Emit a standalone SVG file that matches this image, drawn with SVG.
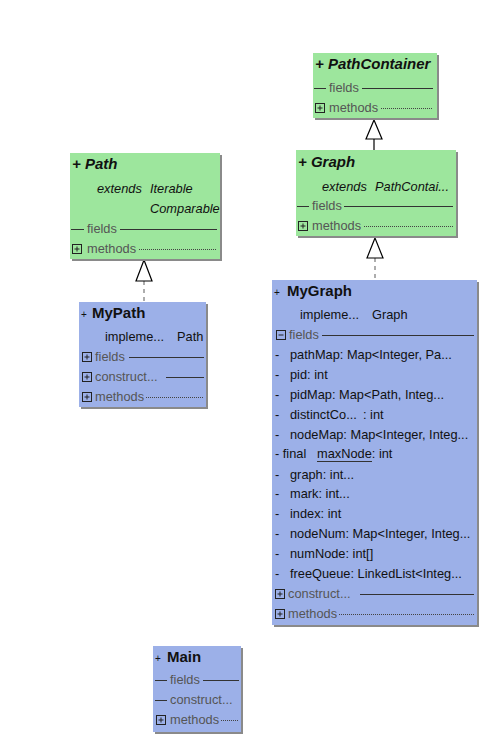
<svg xmlns="http://www.w3.org/2000/svg" width="498" height="756" viewBox="0 0 498 756">
<style>
.sh{fill:#8a8a8a}
.g{fill:#9de69d}
.b{fill:#9cb0e8}
text{font-family:"Liberation Sans",Arial,sans-serif;font-size:12.8px;fill:#111}
.t{font-weight:bold;font-size:15px}
.ti{font-weight:bold;font-style:italic;font-size:15px}
.it{font-style:italic}
.sec{fill:#555}
.pl{font-size:10px}
.ln{stroke:#333;stroke-width:1}
.dot{stroke:#444;stroke-width:1;stroke-dasharray:1 1}
.ic{fill:none;stroke:#222;stroke-width:1}
.arr{fill:#fff;stroke:#000;stroke-width:1.2}
.c{stroke:#000;stroke-width:1.2;fill:none}
.cd{stroke:#777;stroke-width:1.2;fill:none;stroke-dasharray:4 4}
</style>
<defs>
<g id="plus"><rect class="ic" x="0.5" y="0.5" width="9" height="9"/><path class="ic" d="M2.5 5H7.5M5 2.5V7.5"/></g>
<g id="minus"><rect class="ic" x="0.5" y="0.5" width="9" height="9"/><path class="ic" d="M2.5 5H7.5"/></g>
</defs>
<g id="connectors">
<path class="c" d="M374 150V139"/>
<polygon class="arr" points="374,120 366,139 382,139"/>
<path class="cd" d="M375 258V280"/>
<polygon class="arr" points="375,238 367,258 383,258"/>
<path class="cd" d="M144 281V302"/>
<polygon class="arr" points="144,260 136,281 152,281"/>
</g>
<g id="PathContainer">
<rect class="sh" x="315" y="55" width="124" height="65"/>
<rect class="g" x="313" y="53" width="124" height="65"/>
<text class="ti" x="315" y="69">+ PathContainer</text>
<path class="ln" d="M314 88.5H326M362 88.5H433"/>
<text class="sec" x="329" y="92">fields</text>
<use href="#plus" x="315" y="103"/>
<text class="sec" x="329" y="112">methods</text>
<path class="dot" d="M381 108.5H433"/>
</g>
<g id="Graph">
<rect class="sh" x="298" y="152" width="160" height="86"/>
<rect class="g" x="296" y="150" width="160" height="86"/>
<text class="ti" x="298" y="167">+ Graph</text>
<text class="it" x="322" y="191">extends</text>
<text class="it" x="375" y="191">PathContai...</text>
<path class="ln" d="M297 206.5H309M344 206.5H453"/>
<text class="sec" x="312" y="210">fields</text>
<use href="#plus" x="298" y="221"/>
<text class="sec" x="312" y="230">methods</text>
<path class="dot" d="M364 226.5H453"/>
</g>
<g id="Path">
<rect class="sh" x="72" y="155" width="150" height="106"/>
<rect class="g" x="70" y="153" width="150" height="106"/>
<text class="ti" x="72" y="169">+ Path</text>
<text class="it" x="97" y="193">extends</text>
<text class="it" x="150" y="193">Iterable</text>
<text class="it" x="150" y="213">Comparable</text>
<path class="ln" d="M71 229.5H84M120 229.5H217"/>
<text class="sec" x="87" y="233">fields</text>
<use href="#plus" x="72" y="244"/>
<text class="sec" x="87" y="253">methods</text>
<path class="dot" d="M139 249.5H217"/>
</g>
<g id="MyPath">
<rect class="sh" x="81" y="304" width="127" height="105"/>
<rect class="b" x="79" y="302" width="127" height="105"/>
<text class="pl" x="81" y="318">+</text>
<text class="t" x="92" y="318">MyPath</text>
<text x="105" y="341">impleme...</text>
<text x="177" y="341">Path</text>
<use href="#plus" x="82" y="352"/>
<text class="sec" x="95" y="361">fields</text>
<path class="ln" d="M129 357.5H204"/>
<use href="#plus" x="82" y="372"/>
<text class="sec" x="95" y="381">construct...</text>
<path class="ln" d="M166 377.5H204"/>
<use href="#plus" x="82" y="392"/>
<text class="sec" x="95" y="401">methods</text>
<path class="dot" d="M146 397.5H204"/>
</g>
<g id="MyGraph">
<rect class="sh" x="274" y="282" width="205" height="345"/>
<rect class="b" x="272" y="280" width="205" height="345"/>
<text class="pl" x="274" y="296">+</text>
<text class="t" x="287" y="296">MyGraph</text>
<text x="300" y="319">impleme...</text>
<text x="372" y="319">Graph</text>
<use href="#minus" x="276" y="330"/>
<text class="sec" x="289" y="339">fields</text>
<path class="ln" d="M322 335.5H474"/>
<text x="275" y="359">-</text><text x="290" y="359">pathMap: Map&lt;Integer, Pa...</text>
<text x="275" y="379">-</text><text x="290" y="379">pid: int</text>
<text x="275" y="399">-</text><text x="290" y="399">pidMap: Map&lt;Path, Integ...</text>
<text x="275" y="419">-</text><text x="290" y="419">distinctCo...</text><text x="363" y="419">: int</text>
<text x="275" y="439">-</text><text x="290" y="439">nodeMap: Map&lt;Integer, Integ...</text>
<text x="275" y="458">- final</text><text x="317" y="458">maxNode: int</text>
<path class="ln" d="M317 461.5H372"/>
<text x="275" y="479">-</text><text x="290" y="479">graph: int...</text>
<text x="275" y="498">-</text><text x="290" y="498">mark: int...</text>
<text x="275" y="518">-</text><text x="290" y="518">index: int</text>
<text x="275" y="538">-</text><text x="290" y="538">nodeNum: Map&lt;Integer, Integ...</text>
<text x="275" y="558">-</text><text x="290" y="558">numNode: int[]</text>
<text x="275" y="578">-</text><text x="290" y="578">freeQueue: LinkedList&lt;Integ...</text>
<use href="#plus" x="275" y="589"/>
<text class="sec" x="288" y="598">construct...</text>
<path class="ln" d="M360 594.5H474"/>
<use href="#plus" x="275" y="609"/>
<text class="sec" x="288" y="618">methods</text>
<path class="dot" d="M339 614.5H474"/>
</g>
<g id="Main">
<rect class="sh" x="155" y="648" width="88" height="86"/>
<rect class="b" x="153" y="646" width="88" height="86"/>
<text class="pl" x="155" y="662">+</text>
<text class="t" x="167" y="662">Main</text>
<path class="ln" d="M155 680.5H167M203 680.5H239"/>
<text class="sec" x="170" y="684">fields</text>
<path class="ln" d="M155 700.5H167"/>
<text class="sec" x="170" y="704">construct...</text>
<use href="#plus" x="156" y="715"/>
<text class="sec" x="170" y="724">methods</text>
<path class="dot" d="M221 720.5H239"/>
</g>
</svg>
